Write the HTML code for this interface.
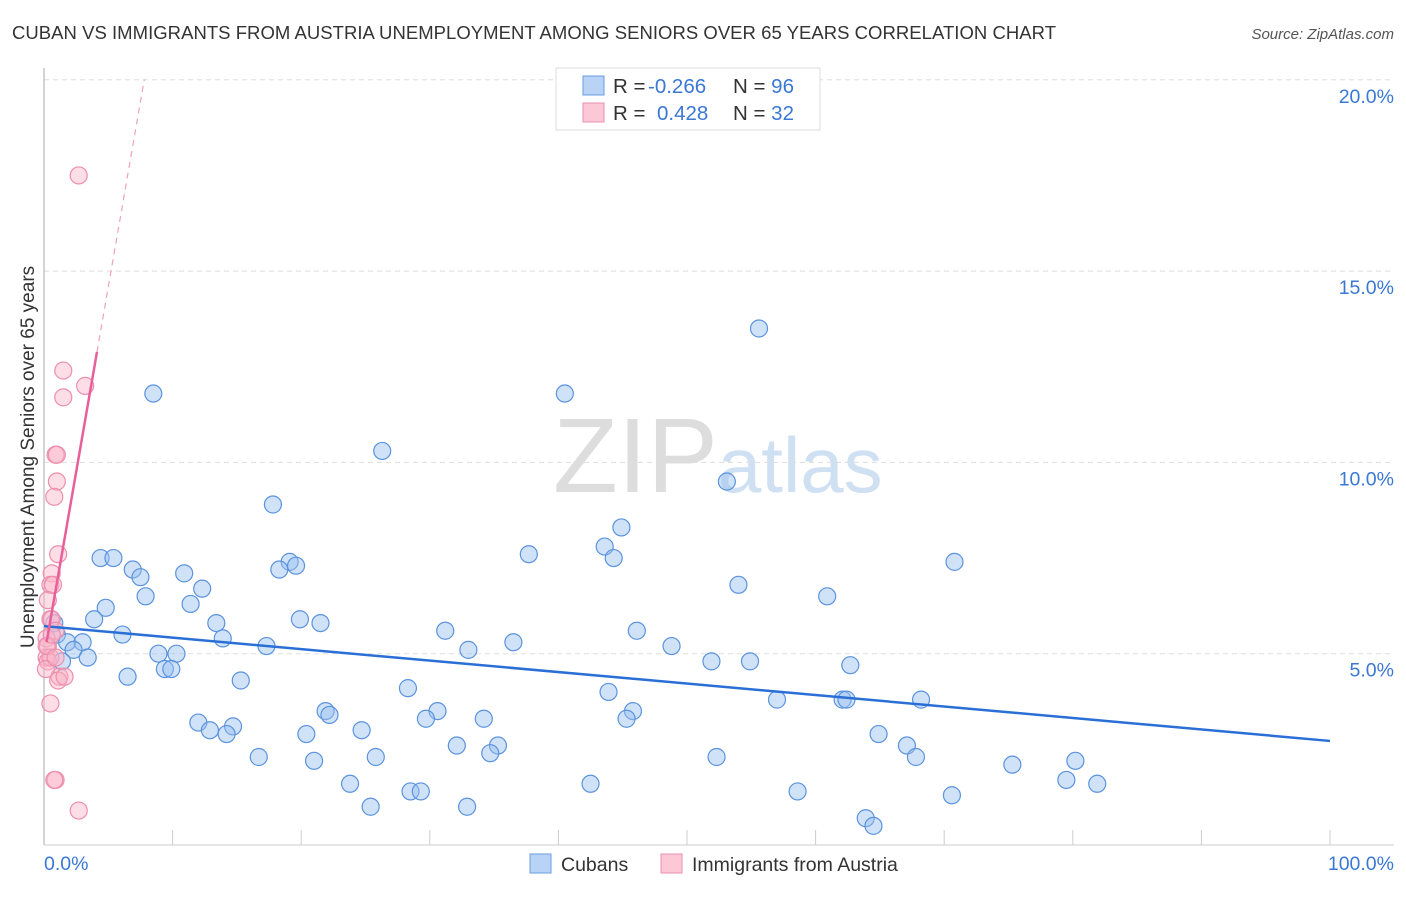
<!DOCTYPE html>
<html><head><meta charset="utf-8"><style>
body{margin:0;background:#fff;font-family:"Liberation Sans",sans-serif}
svg text{font-family:"Liberation Sans",sans-serif}
</style></head><body>
<svg id="chart" width="1406" height="892" xmlns="http://www.w3.org/2000/svg">
<text x="12" y="39" font-size="18.5" fill="#333" textLength="1044">CUBAN VS IMMIGRANTS FROM AUSTRIA UNEMPLOYMENT AMONG SENIORS OVER 65 YEARS CORRELATION CHART</text>
<text x="1394" y="39" font-size="15" fill="#555" text-anchor="end" font-style="italic">Source: ZipAtlas.com</text>
<text x="553" y="492" font-size="106" fill="#ddd" font-family="Liberation Serif,serif">ZIP<tspan fill="#cfe0f3" font-family="Liberation Sans,sans-serif" font-size="78">atlas</tspan></text>
<text transform="translate(34,457) rotate(-90)" font-size="19" fill="#333" text-anchor="middle">Unemployment Among Seniors over 65 years</text>
<g id="grid"></g><g id="ticks"></g>
<line x1="44" y1="68" x2="44" y2="845" stroke="#aaa"/>
<line x1="44" y1="845" x2="1394" y2="845" stroke="#ccc"/>
<g id="pts"></g><g id="lines"></g>
<text x="44" y="870" font-size="19.5" fill="#3a78d4">0.0%</text>
<text x="1394" y="870" font-size="19.5" fill="#3a78d4" text-anchor="end">100.0%</text>
<g>
<rect x="556" y="68" width="264" height="62" fill="#fff" stroke="#ddd"/>
<rect x="583" y="76" width="21" height="19" fill="#b8d3f5" stroke="#6a9de0"/>
<rect x="583" y="103" width="21" height="19" fill="#fcc8d8" stroke="#ec8fae"/>
<text x="613" y="93" font-size="20.5" fill="#333">R = <tspan x="648" fill="#3a78d4">-0.266</tspan><tspan x="733">N = </tspan><tspan fill="#3a78d4">96</tspan></text>
<text x="613" y="120" font-size="20.5" fill="#333">R = <tspan x="657" fill="#3a78d4">0.428</tspan><tspan x="733">N = </tspan><tspan fill="#3a78d4">32</tspan></text>
</g>
<g><rect x="530" y="854" width="21" height="19" fill="#b8d3f5" stroke="#6a9de0"/><text x="561" y="871" font-size="19.5" fill="#333">Cubans</text></g>
<g><rect x="661" y="854" width="21" height="19" fill="#fcc8d8" stroke="#ec8fae"/><text x="692" y="871" font-size="19.5" fill="#333">Immigrants from Austria</text></g>
</svg>
<script>
const yTicks=[5,10,15,20];
const yTickLabels=["5.0%","10.0%","15.0%","20.0%"];
const xTicks=[10,20,30,40,50,60,70,80,90,100];
const cubanX=[8.5,55.6,40.5,26.3,17.8,53.1,44.9,43.6,44.3,37.7,70.8,4.4,5.4,6.9,7.5,10.9,19.1,19.6,18.3,12.3,7.9,54.0,60.9,4.8,11.4,3.9,13.4,19.9,21.5,6.1,13.9,31.2,46.1,36.5,48.8,17.3,0.8,1.0,1.8,3.0,2.3,3.4,8.9,10.3,33.0,51.9,54.9,62.7,9.4,9.9,6.5,15.3,28.3,43.9,57.0,62.1,62.4,68.2,21.9,22.2,30.6,45.8,29.7,34.2,12.0,12.9,14.7,14.2,24.7,20.4,45.3,64.9,67.1,32.1,35.3,34.7,25.8,16.7,21.0,52.3,67.8,80.2,75.3,23.8,42.5,79.5,81.9,58.6,70.6,28.5,29.3,25.4,32.9,63.9,64.5,1.4];
const cubanY=[11.8,13.5,11.8,10.3,8.9,9.5,8.3,7.8,7.5,7.6,7.4,7.5,7.5,7.2,7.0,7.1,7.4,7.3,7.2,6.7,6.5,6.8,6.5,6.2,6.3,5.9,5.8,5.9,5.8,5.5,5.4,5.6,5.6,5.3,5.2,5.2,5.8,5.5,5.3,5.3,5.1,4.9,5.0,5.0,5.1,4.8,4.8,4.7,4.6,4.6,4.4,4.3,4.1,4.0,3.8,3.8,3.8,3.8,3.5,3.4,3.5,3.5,3.3,3.3,3.2,3.0,3.1,2.9,3.0,2.9,3.3,2.9,2.6,2.6,2.6,2.4,2.3,2.3,2.2,2.3,2.3,2.2,2.1,1.6,1.6,1.7,1.6,1.4,1.3,1.4,1.4,1.0,1.0,0.7,0.5,4.8];
const austriaX=[2.7,1.5,3.2,1.5,0.9,1.0,1.0,0.8,1.1,0.6,0.5,0.7,0.3,0.5,0.6,0.9,0.2,0.3,0.2,0.3,0.5,1.2,1.1,1.6,0.5,0.9,0.8,2.7,0.2,0.6,0.15,0.9];
const austriaY=[17.5,12.4,12.0,11.7,10.2,10.2,9.5,9.1,7.6,7.1,6.8,6.8,6.4,5.9,5.9,5.6,5.4,5.2,4.9,4.8,4.9,4.4,4.3,4.4,3.7,1.7,1.7,0.9,5.2,5.5,4.6,4.9];
const cubanTrend=[5.72,2.72];
const austriaTrend={intercept:4.91,slope:1.936,solidEnd:4.12,dashEnd:7.8};
const X=v=>44+v*12.86, Y=v=>845-v*38.26;
const NS="http://www.w3.org/2000/svg";
function mk(t,a,p){const e=document.createElementNS(NS,t);for(const k in a)e.setAttribute(k,a[k]);p.appendChild(e);return e;}
const grid=document.getElementById('grid'),ticks=document.getElementById('ticks'),pts=document.getElementById('pts'),lines=document.getElementById('lines');
yTicks.forEach((v,i)=>{
 const l=mk('line',{x1:44,x2:1394,y1:Y(v),y2:Y(v),stroke:'#ddd','stroke-dasharray':'5,4'},grid);
 
 
 const t=mk('text',{x:1394,y:Y(v)+23,'font-size':19.5,fill:'#3a78d4','text-anchor':'end'},ticks);
 t.textContent=yTickLabels[i];
 
 
});
xTicks.forEach(v=>{
 const l=mk('line',{x1:X(v),x2:X(v),y1:830,y2:845,stroke:'#ccc'},ticks);
 
 
});
cubanX.forEach((x,i)=>{
 const c=mk('circle',{cx:X(x),cy:Y(cubanY[i]),r:8.5,fill:'rgba(150,190,240,0.45)',stroke:'#5b93dd','stroke-width':1.2},pts);
 
 
});
austriaX.forEach((x,i)=>{
 const c=mk('circle',{cx:X(x),cy:Y(austriaY[i]),r:8.5,fill:'rgba(250,180,200,0.45)',stroke:'#ec8fae','stroke-width':1.2},pts);
 
 
});
const bl=mk('line',{x1:X(0),y1:Y(cubanTrend[0]),x2:X(100),y2:Y(cubanTrend[1]),stroke:'#2a6fd6','stroke-width':2.5},lines);


const a=austriaTrend,f=x=>a.intercept+a.slope*x;
const pl=mk('line',{x1:X(0.2),y1:Y(f(0.2)),x2:X(a.solidEnd),y2:Y(f(a.solidEnd)),stroke:'#e8609a','stroke-width':2.5},lines);


const pd=mk('line',{x1:X(a.solidEnd),y1:Y(f(a.solidEnd)),x2:X(a.dashEnd),y2:Y(f(a.dashEnd)),stroke:'#f0a0bf','stroke-width':1.2,'stroke-dasharray':'6,5'},lines);


</script>
</body></html>
